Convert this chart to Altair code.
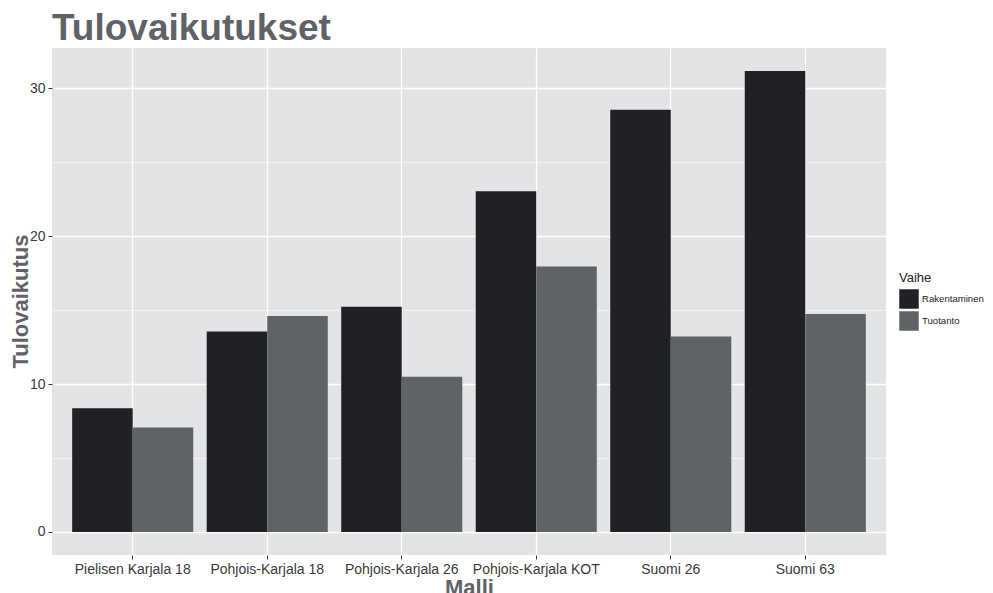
import altair as alt
import pandas as pd

malli = ["Pielisen Karjala 18", "Pohjois-Karjala 18", "Pohjois-Karjala 26",
         "Pohjois-Karjala KOT", "Suomi 26", "Suomi 63"]
vaiheet = ["Rakentaminen", "Tuotanto"]
rakentaminen = [8.37, 13.56, 15.23, 23.04, 28.55, 31.17]
tuotanto = [7.06, 14.60, 10.49, 17.96, 13.22, 14.74]
otsikko = ["Tulovaikutukset"]

rows = []
for m, r, t in zip(malli, rakentaminen, tuotanto):
    rows.append({"Malli": m, "Vaihe": "Rakentaminen", "Tulovaikutus": r})
    rows.append({"Malli": m, "Vaihe": "Tuotanto", "Tulovaikutus": t})
df = pd.DataFrame(rows)

FONT = "Liberation Sans"
TITLE_GRAY = "#5f6266"

bars = alt.Chart(df).mark_bar().encode(
    x=alt.X("Malli:N", sort=malli,
            scale=alt.Scale(paddingInner=0.1, paddingOuter=0.15),
            axis=alt.Axis(title="Malli", labelAngle=0, grid=True, gridColor="white",
                          gridWidth=1.3, domain=False, tickColor="#333333", tickSize=4,
                          tickWidth=1, bandPosition=0.5, labelFontSize=14, labelColor="#3a3a3a",
                          labelPadding=3, titleFontSize=22, titleFontWeight="bold",
                          titleColor=TITLE_GRAY, titlePadding=1, labelFont=FONT, titleFont=FONT)),
    xOffset=alt.XOffset("Vaihe:N", sort=vaiheet,
                        scale=alt.Scale(paddingInner=0, paddingOuter=0)),
    y=alt.Y("Tulovaikutus:Q", stack=None,
            scale=alt.Scale(domain=[-1.5585, 32.7285], nice=False, zero=False),
            axis=alt.Axis(title="Tulovaikutus", values=[0, 5, 10, 15, 20, 25, 30],
                          labelExpr="datum.value % 10 === 0 ? datum.label : ''",
                          grid=True, gridColor="white",
                          gridWidth={"condition": {"test": "datum.value % 10 === 0", "value": 1.3}, "value": 0.6},
                          tickOpacity={"condition": {"test": "datum.value % 10 === 0", "value": 1}, "value": 0},
                          domain=False, tickColor="#333333", tickSize=4, tickWidth=1,
                          labelFontSize=14, labelColor="#3a3a3a", labelPadding=3,
                          titleFontSize=22, titleFontWeight="bold", titleColor=TITLE_GRAY,
                          titleX=-25, titleY=253, titleAngle=270, titleBaseline="alphabetic",
                          titleAlign="center",
                          labelFont=FONT, titleFont=FONT)),
    color=alt.Color("Vaihe:N", sort=vaiheet,
                    scale=alt.Scale(domain=vaiheet, range=["#202124", "#606366"]),
                    legend=alt.Legend(title="Vaihe", orient="none", legendX=847, legendY=224,
                                      symbolType="square", symbolSize=380, symbolStrokeWidth=0,
                                      titleFontSize=13, titleFontWeight="normal", titleColor="#222222",
                                      labelFontSize=9.6, labelColor="#222222", rowPadding=2,
                                      labelOffset=3,
                                      titleFont=FONT, labelFont=FONT, titlePadding=4)),
)

title = alt.Chart(pd.DataFrame({"otsikko": otsikko})).mark_text(
    align="left", baseline="alphabetic", fontSize=37, fontWeight="bold",
    color=TITLE_GRAY, font=FONT,
).encode(text="otsikko:N", x=alt.value(0), y=alt.value(-8.5))

chart = alt.layer(bars, title).properties(
    width=834, height=507,
    padding={"left": 44, "top": 40, "right": 99, "bottom": 38},
    autosize=alt.AutoSizeParams(type="none"),
    background="white",
).configure_view(fill="#e3e4e6", strokeWidth=0)

chart.save("out.html", embed_options={"renderer": "svg", "actions": False})
